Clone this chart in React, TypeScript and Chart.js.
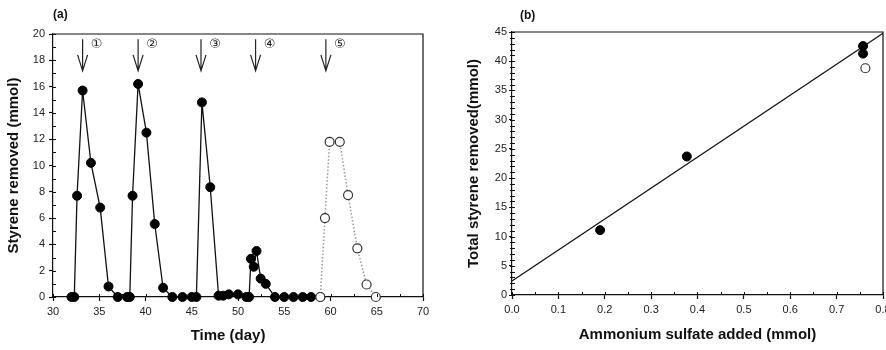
import React, { useEffect, useRef } from 'react';
import { Chart, registerables } from 'chart.js';

Chart.register(...registerables);

// ---- Panel (a): styrene removed vs time ----
const dayFilled = [32.0, 32.3, 32.6, 33.2, 34.1, 35.1, 36.0, 37.0, 38.0, 38.3, 38.6, 39.2, 40.1, 41.0, 41.9, 42.9, 44.0, 45.0, 45.5, 46.1, 47.0, 47.9, 48.4, 49.0, 50.0, 50.9, 51.2, 51.4, 51.7, 52.0, 52.45, 53.0, 54.0, 55.0, 56.0, 57.0, 57.9, 58.9];
const removedFilled = [0, 0, 7.7, 15.7, 10.2, 6.8, 0.8, 0, 0, 0, 7.7, 16.2, 12.5, 5.55, 0.7, 0, 0, 0, 0, 14.8, 8.35, 0.1, 0.1, 0.2, 0.2, 0, 0, 2.9, 2.3, 3.5, 1.4, 1.0, 0, 0, 0, 0, 0, 0];
const dayOpen = [58.9, 59.4, 59.9, 61.0, 61.9, 62.9, 63.9, 64.9];
const removedOpen = [0, 6.0, 11.8, 11.8, 7.75, 3.7, 0.95, 0];
const arrowDays = [33.2, 39.2, 46.0, 51.9, 59.5];
const arrowLabels = ['①', '②', '③', '④', '⑤'];
const arrowTop = 19.6;
const arrowTip = 17.2;
const arrowLabelY = 19.2;

// ---- Panel (b): total styrene removed vs ammonium sulfate ----
const sulfateFilled = [0.19, 0.377, 0.757, 0.757];
const totalFilled = [11.1, 23.7, 42.6, 41.3];
const sulfateOpen = [0.762];
const totalOpen = [38.8];
const fitX = [0, 0.8];
const fitY = [2.4, 44.8];

const FONT = '"Liberation Sans", Arial, sans-serif';
const INK = '#111';

const toPts = (xs: number[], ys: number[]) => xs.map((x, i) => ({ x, y: ys[i] }));

const decorPlugin = {
  id: 'decor',
  afterDraw(chart: any, _args: any, opts: any) {
    const { ctx, chartArea: a, scales } = chart;
    const xs = scales.x;
    const ys = scales.y;
    ctx.save();
    ctx.strokeStyle = INK;
    ctx.lineWidth = 1.2;
    // frame top + right
    ctx.beginPath();
    ctx.moveTo(a.left, a.top);
    ctx.lineTo(a.right, a.top);
    ctx.lineTo(a.right, a.bottom);
    ctx.stroke();
    // minor ticks
    ctx.lineWidth = 1;
    if (opts.xMinor) {
      for (let v = xs.min; v <= xs.max + 1e-9; v += opts.xMinor) {
        const px = Math.round(xs.getPixelForValue(v)) + 0.5;
        ctx.beginPath();
        ctx.moveTo(px, a.bottom);
        ctx.lineTo(px, a.bottom - 3);
        ctx.stroke();
      }
    }
    if (opts.yMinor) {
      for (let v = ys.min; v <= ys.max + 1e-9; v += opts.yMinor) {
        const py = Math.round(ys.getPixelForValue(v)) + 0.5;
        ctx.beginPath();
        ctx.moveTo(a.left - (opts.yMinorCross ? 2 : 0), py);
        ctx.lineTo(a.left + 3, py);
        ctx.stroke();
      }
    }
    // panel label
    ctx.fillStyle = INK;
    ctx.font = `bold 12px ${FONT}`;
    ctx.textAlign = 'left';
    ctx.textBaseline = 'middle';
    ctx.fillText(opts.label, opts.labelX, opts.labelY);
    // custom x-axis title (offset from centre like the original)
    if (opts.xTitle) {
      ctx.font = `bold 15px ${FONT}`;
      ctx.textAlign = 'center';
      ctx.fillText(opts.xTitle, opts.xTitleX, opts.xTitleY);
    }
    // arrows
    if (opts.arrows) {
      ctx.lineWidth = 1.2;
      ctx.strokeStyle = '#222';
      opts.arrows.days.forEach((d: number, i: number) => {
        const x = xs.getPixelForValue(d);
        const yT = ys.getPixelForValue(opts.arrows.top);
        const yB = ys.getPixelForValue(opts.arrows.tip);
        ctx.beginPath();
        ctx.moveTo(x, yT);
        ctx.lineTo(x, yB);
        ctx.moveTo(x - 5, yB - 16);
        ctx.lineTo(x, yB);
        ctx.lineTo(x + 5, yB - 16);
        ctx.stroke();
        ctx.font = `13px "DejaVu Sans", sans-serif`;
        ctx.textAlign = 'center';
        ctx.fillStyle = '#222';
        ctx.fillText(opts.arrows.labels[i], x + 14, ys.getPixelForValue(opts.arrows.labelY));
      });
    }
    ctx.restore();
  },
};

function axis(opts: any) {
  return {
    type: 'linear',
    min: opts.min,
    max: opts.max,
    ticks: {
      stepSize: opts.step,
      font: { family: FONT, size: 11 },
      color: '#222',
      padding: opts.tickPad,
      callback: opts.fmt,
    },
    grid: {
      drawOnChartArea: false,
      drawTicks: true,
      tickLength: opts.tickLen,
      tickColor: INK,
      tickWidth: 1.2,
    },
    border: { display: true, color: INK, width: 1.2 },
    title: {
      display: opts.title !== '',
      text: opts.title,
      color: INK,
      font: { family: FONT, size: 15, weight: 'bold' },
      padding: opts.titlePad,
    },
    afterFit: (s: any) => {
      if (opts.horizontal) s.height = opts.size;
      else s.width = opts.size;
      s.paddingLeft = 0;
      s.paddingRight = 0;
      s.paddingTop = 0;
      s.paddingBottom = 0;
    },
  };
}

function useChart(ref: React.RefObject<HTMLCanvasElement>, build: () => any) {
  useEffect(() => {
    if (!ref.current) return;
    const chart = new Chart(ref.current, build());
    return () => chart.destroy();
  }, []);
}

export default function App() {
  const leftRef = useRef<HTMLCanvasElement>(null);
  const rightRef = useRef<HTMLCanvasElement>(null);

  useChart(leftRef, () => ({
    type: 'scatter',
    data: {
      datasets: [
        {
          data: toPts(dayOpen, removedOpen),
          showLine: true,
          borderColor: '#999',
          borderWidth: 1.5,
          borderDash: [1.5, 2],
          pointRadius: 4.5,
          pointBackgroundColor: '#fff',
          pointBorderColor: '#333',
          pointBorderWidth: 1.2,
          clip: false,
        },
        {
          data: toPts(dayFilled, removedFilled),
          showLine: true,
          borderColor: INK,
          borderWidth: 1.3,
          pointRadius: 4.5,
          pointBackgroundColor: '#000',
          pointBorderColor: '#000',
          pointBorderWidth: 1,
          clip: false,
        },
      ],
    },
    options: {
      responsive: false,
      animation: false,
      layout: { autoPadding: false, padding: { top: 34, right: 20, left: 0, bottom: 0 } },
      plugins: {
        legend: { display: false },
        tooltip: { enabled: false },
        decor: {
          label: '(a)',
          labelX: 53,
          labelY: 15,
          xMinor: 2.5,
          yMinor: 1,
          xTitle: 'Time (day)',
          xTitleX: 228,
          xTitleY: 336,
          arrows: { days: arrowDays, labels: arrowLabels, top: arrowTop, tip: arrowTip, labelY: arrowLabelY },
        },
      },
      scales: {
        x: axis({ min: 30, max: 70, step: 5, tickPad: 4, tickLen: 4, title: '', titlePad: { top: 4, bottom: 5 }, horizontal: true, size: 53 }),
        y: axis({ min: 0, max: 20, step: 2, tickPad: 4, tickLen: 4, title: 'Styrene removed (mmol)', titlePad: { top: 4.5, bottom: 4 }, horizontal: false, size: 53 }),
      },
    },
    plugins: [decorPlugin],
  }));

  useChart(rightRef, () => ({
    type: 'scatter',
    data: {
      datasets: [
        {
          data: toPts(sulfateFilled, totalFilled),
          showLine: false,
          pointRadius: 4.5,
          pointBackgroundColor: '#000',
          pointBorderColor: '#000',
          clip: false,
        },
        {
          data: toPts(sulfateOpen, totalOpen),
          showLine: false,
          pointRadius: 4.5,
          pointBackgroundColor: '#fff',
          pointBorderColor: '#333',
          pointBorderWidth: 1.2,
          clip: false,
        },
        {
          data: toPts(fitX, fitY),
          showLine: true,
          borderColor: INK,
          borderWidth: 1.2,
          pointRadius: 0,
        },
      ],
    },
    options: {
      responsive: false,
      animation: false,
      layout: { autoPadding: false, padding: { top: 32, right: 3, left: 0, bottom: 0 } },
      plugins: {
        legend: { display: false },
        tooltip: { enabled: false },
        decor: { label: '(b)', labelX: 77, labelY: 16, xMinor: 0.05, yMinor: 1, yMinorCross: true },
      },
      scales: {
        x: axis({ min: 0, max: 0.8, step: 0.1, tickPad: 4, tickLen: 4, fmt: (v: number) => Number(v).toFixed(1), title: 'Ammonium sulfate added (mmol)', titlePad: { top: 4, bottom: 6 }, horizontal: true, size: 55 }),
        y: axis({ min: 0, max: 45, step: 5, tickPad: 2, tickLen: 3, title: 'Total styrene removed(mmol)', titlePad: { top: 22, bottom: 4 }, horizontal: false, size: 69 }),
      },
    },
    plugins: [decorPlugin],
  }));

  return (
    <div style={{ position: 'absolute', left: 0, top: 0, width: 886, height: 350, background: '#fff' }}>
      <canvas ref={leftRef} width={443} height={350} style={{ position: 'absolute', left: 0, top: 0, width: 443, height: 350 }} />
      <canvas ref={rightRef} width={443} height={350} style={{ position: 'absolute', left: 443, top: 0, width: 443, height: 350 }} />
    </div>
  );
}
